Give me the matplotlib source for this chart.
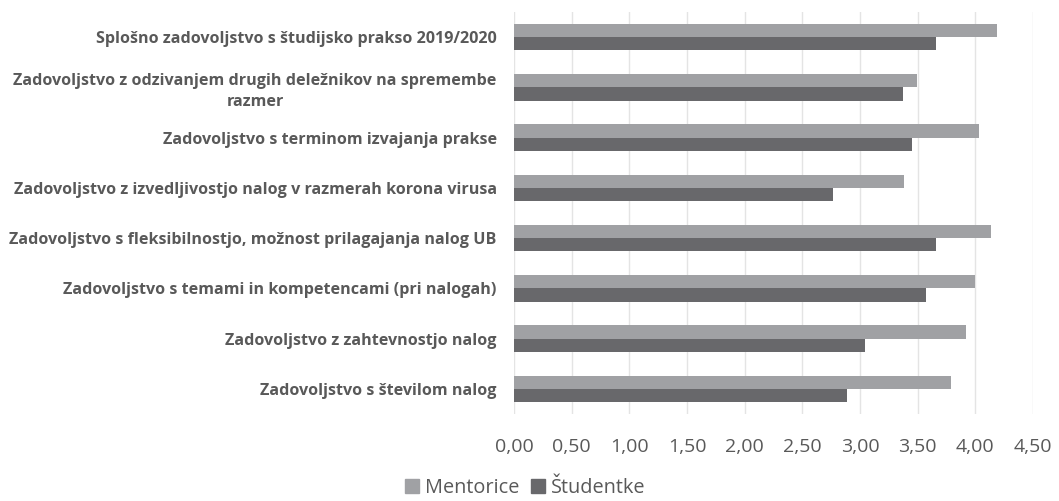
import matplotlib
matplotlib.use("Agg")
import matplotlib.pyplot as plt
from matplotlib.patches import Patch
import numpy as np

categories = [
    "Splošno zadovoljstvo s študijsko prakso 2019/2020",
    "Zadovoljstvo z odzivanjem drugih deležnikov na spremembe\nrazmer",
    "Zadovoljstvo s terminom izvajanja prakse",
    "Zadovoljstvo z izvedljivostjo nalog v razmerah korona virusa",
    "Zadovoljstvo s fleksibilnostjo, možnost prilagajanja nalog UB",
    "Zadovoljstvo s temami in kompetencami (pri nalogah)",
    "Zadovoljstvo z zahtevnostjo nalog",
    "Zadovoljstvo s številom nalog",
]
mentorice = [4.19, 3.49, 4.03, 3.38, 4.14, 4.00, 3.92, 3.79]
studentke = [3.66, 3.37, 3.45, 2.77, 3.66, 3.57, 3.04, 2.89]
series_names = ["Mentorice", "Študentke"]
xticks = [0.0, 0.5, 1.0, 1.5, 2.0, 2.5, 3.0, 3.5, 4.0, 4.5]

c_m = "#A0A1A4"
c_s = "#68686B"
txt = "#595959"

fig = plt.figure(figsize=(10.59, 5.01), dpi=100)
ax = fig.add_axes([514/1059, 1 - 414/501, (1033 - 514)/1059, 402/501])

n = len(categories)
y = np.arange(n)
h = 0.263
ax.barh(y - h/2, mentorice, height=h, color=c_m, zorder=3)
ax.barh(y + h/2, studentke, height=h, color=c_s, zorder=3)
ax.set_ylim(n - 0.5, -0.5)
ax.set_xlim(0, 4.5)
ax.set_yticks(y)
ax.set_yticklabels(categories, fontsize=11.6, fontweight="bold", color=txt,
                   family="Open Sans", multialignment="center", linespacing=1.4)
ax.set_xticks(xticks)
ax.set_xticklabels([f"{v:.2f}".replace(".", ",") for v in xticks],
                   fontsize=14, color=txt, family="Open Sans")
ax.tick_params(axis="y", length=0, pad=12.5)
ax.tick_params(axis="x", length=0, pad=17)
ax.grid(axis="x", color="#E4E4E4", linewidth=1, zorder=0)
for s in ax.spines.values():
    s.set_visible(False)

handles = [Patch(color=c_m), Patch(color=c_s)]
fig.legend(handles, series_names, loc="center", bbox_to_anchor=(525/1059, 1 - 488/501),
           ncol=2, frameon=False, handlelength=0.7, handleheight=0.7,
           handletextpad=0.3, columnspacing=0.6, labelcolor=txt,
           prop={"family": "Open Sans", "size": 14.3})
fig.savefig("out.png", dpi=100)
